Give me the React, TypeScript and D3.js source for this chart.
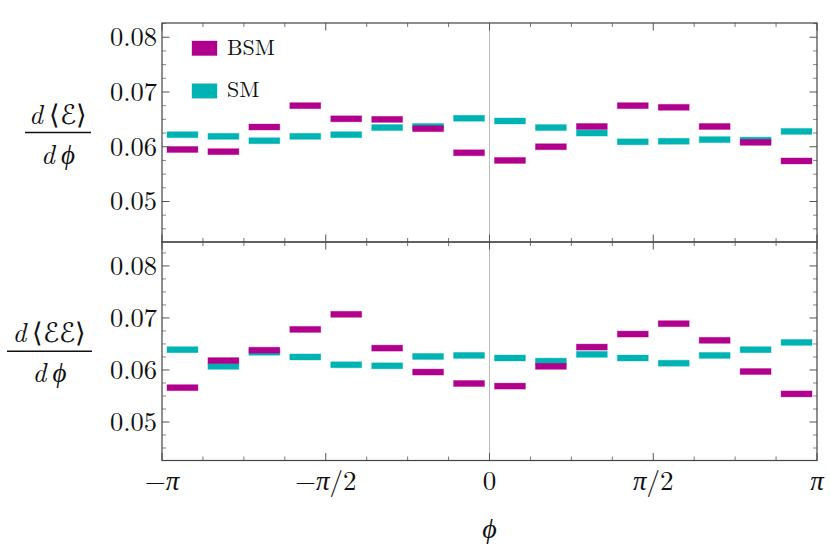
import React from "react";
import * as d3 from "d3";

const nBins = 16;
const seriesNames = ["BSM", "SM"];
const seriesColors = ["#B0008C", "#00B3B3"];

const bsmTop = [0.0595, 0.0591, 0.0636, 0.0675, 0.0651, 0.065, 0.0633, 0.0589, 0.0575, 0.06, 0.0637, 0.0675, 0.0672, 0.0637, 0.0608, 0.0574];
const smTop = [0.0622, 0.0619, 0.0611, 0.0619, 0.0622, 0.0635, 0.0637, 0.0652, 0.0647, 0.0635, 0.0625, 0.0609, 0.061, 0.0613, 0.0612, 0.0628];
const bsmBottom = [0.0566, 0.0618, 0.0638, 0.0678, 0.0707, 0.0642, 0.0596, 0.0574, 0.0569, 0.0607, 0.0644, 0.0669, 0.0689, 0.0657, 0.0597, 0.0554];
const smBottom = [0.0639, 0.0607, 0.0634, 0.0625, 0.061, 0.0608, 0.0626, 0.0628, 0.0623, 0.0617, 0.063, 0.0623, 0.0613, 0.0628, 0.0639, 0.0653];

const yTickValues = [0.05, 0.06, 0.07, 0.08];
const yTickLabels = ["0.05", "0.06", "0.07", "0.08"];
const xTickValues = [-Math.PI, -Math.PI / 2, 0, Math.PI / 2, Math.PI];
const xTickLabels = [["−", "π", ""], ["−", "π", "/2"], ["", "", "0"], ["", "π", "/2"], ["", "π", ""]];
const panelNumerators = ["ℰ", "ℰℰ"];

const FONT = "'Latin Modern Roman', 'Liberation Serif', serif";
const frameColor = "#444";
const tickColor = "#555";

export default function App() {
  const x = d3.scaleLinear().domain([-Math.PI, Math.PI]).range([162, 817]);
  const edges = d3.range(nBins + 1).map((i) => -Math.PI + (i * 2 * Math.PI) / nBins);
  const panels = [
    { bsm: bsmTop, sm: smTop, y: d3.scaleLinear().domain([0.0426, 0.0826]).range([242, 23]), top: 23, bottom: 242, labelX: 58, lineHalf: 33, num: panelNumerators[0] },
    { bsm: bsmBottom, sm: smBottom, y: d3.scaleLinear().domain([0.0426, 0.0846]).range([460.5, 242]), top: 242, bottom: 460.5, labelX: 49.5, lineHalf: 42.5, num: panelNumerators[1] },
  ];
  const [xl, xr] = x.range();

  return (
    <svg width={830} height={554} style={{ position: "absolute", left: 0, top: 0, background: "#fff" }}>
      {panels.map((p, pi) => {
        const [d0, d1] = p.y.domain();
        const minor = d3.range(Math.ceil(d0 / 0.0025) * 0.0025, d1, 0.0025).filter((v) => !yTickValues.some((t) => Math.abs(t - v) < 1e-6));
        const mid = (p.top + p.bottom) / 2;
        return (
          <g key={pi}>
            <line x1={x(0)} x2={x(0)} y1={p.top} y2={p.bottom} stroke="#bbb" strokeWidth={1} />
            {[p.sm, p.bsm].map((vals, si) => {
              const color = si === 0 ? seriesColors[1] : seriesColors[0];
              return vals.map((v, i) => {
                const x0 = x(edges[i]) + 5;
                const w = x(edges[i + 1]) - x(edges[i]) - 10;
                return (
                  <rect key={`${si}-${i}`} x={x0} y={p.y(v) - 3} width={w} height={6} fill={color} stroke={color} strokeOpacity={0.35} strokeWidth={1} />
                );
              });
            })}
            {yTickValues.map((v, i) => (
              <g key={`yt${i}`}>
                <line x1={xl} x2={xl + 7.5} y1={p.y(v)} y2={p.y(v)} stroke={tickColor} />
                <line x1={xr} x2={xr - 7.5} y1={p.y(v)} y2={p.y(v)} stroke={tickColor} />
                <text x={xl - 5} y={p.y(v)} dy="0.34em" textAnchor="end" fontFamily={FONT} fontSize={26.5} fill="#111">
                  {yTickLabels[i]}
                </text>
              </g>
            ))}
            {minor.map((v, i) => (
              <g key={`ym${i}`}>
                <line x1={xl} x2={xl + 4} y1={p.y(v)} y2={p.y(v)} stroke="#888" />
                <line x1={xr} x2={xr - 4} y1={p.y(v)} y2={p.y(v)} stroke="#888" />
              </g>
            ))}
            {edges.map((e, i) => {
              const major = xTickValues.some((t) => Math.abs(t - e) < 1e-9);
              const len = major ? 7.5 : 4;
              return (
                <g key={`xt${i}`}>
                  <line x1={x(e)} x2={x(e)} y1={p.top} y2={p.top + len} stroke={major ? tickColor : "#777"} />
                  <line x1={x(e)} x2={x(e)} y1={p.bottom} y2={p.bottom - len} stroke={major ? tickColor : "#777"} />
                </g>
              );
            })}
            <rect x={xl} y={p.top} width={xr - xl} height={p.bottom - p.top} fill="none" stroke={frameColor} strokeWidth={1.2} />
            <g fontFamily={FONT} fontSize={27} fill="#111" textAnchor="middle">
              <text x={p.labelX} y={mid - 9}>
                <tspan fontStyle="italic">d</tspan>
                <tspan dx={6}>⟨</tspan>
                <tspan>{p.num}</tspan>
                <tspan>⟩</tspan>
              </text>
              <line x1={p.labelX - p.lineHalf} x2={p.labelX + p.lineHalf} y1={mid} y2={mid} stroke="#111" strokeWidth={1.3} />
              <text x={p.labelX} y={mid + 31}>
                <tspan fontStyle="italic">d</tspan>
                <tspan dx={6} fontStyle="italic">ϕ</tspan>
              </text>
            </g>
          </g>
        );
      })}
      {xTickValues.map((v, i) => (
        <text key={`xl${i}`} x={x(v)} y={490} textAnchor="middle" fontFamily={FONT} fontSize={27} fill="#111">
          <tspan>{xTickLabels[i][0]}</tspan>
          <tspan fontStyle="italic">{xTickLabels[i][1]}</tspan>
          <tspan>{xTickLabels[i][2]}</tspan>
        </text>
      ))}
      <text x={x(0)} y={538} textAnchor="middle" fontFamily={FONT} fontSize={28} fontStyle="italic" fill="#111">
        ϕ
      </text>
      {seriesNames.map((name, i) => (
        <g key={`lg${i}`}>
          <rect x={192} y={41 + i * 42.7} width={25} height={14.5} fill={seriesColors[i]} stroke={seriesColors[i]} strokeOpacity={0.35} />
          <text x={227} y={54.5 + i * 42.5} fontFamily={FONT} fontSize={22} fill="#111">
            {name}
          </text>
        </g>
      ))}
    </svg>
  );
}
